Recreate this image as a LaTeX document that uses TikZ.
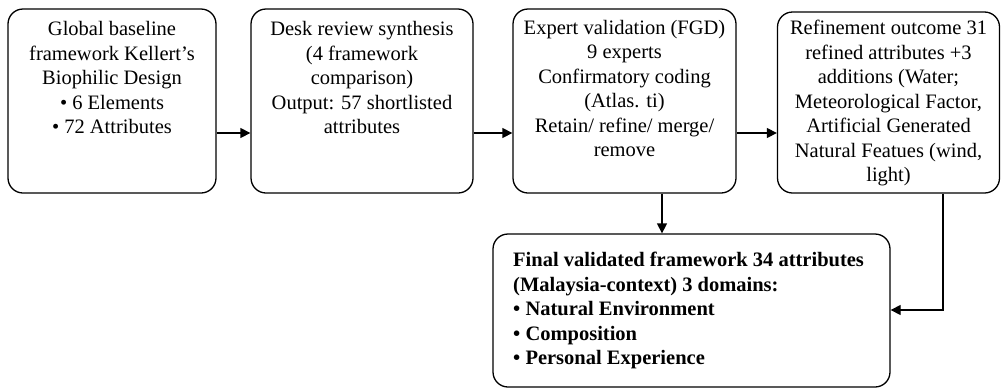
\documentclass[tikz,border=0pt]{standalone}
\usepackage{fontspec}
\setmainfont{Liberation Serif}
\usetikzlibrary{arrows.meta}
\begin{document}
\begin{tikzpicture}[x=1pt,y=-1pt,
  box/.style={draw,line width=1.3pt,rounded corners=15pt},
  txt/.style={inner sep=0pt,anchor=north,align=center,font=\fontsize{20.5}{24.5}\selectfont},
  btxt/.style={inner sep=0pt,anchor=north west,align=left,font=\fontsize{20.5}{24.5}\selectfont\bfseries},
  arr/.style={line width=1.3pt,-{Triangle[length=10pt,width=10pt]}}]
\useasboundingbox (0,0) rectangle (1001,389);
\node[box,minimum width=208pt,minimum height=184pt] (b1) at (112,101) {};
\node[box,minimum width=222pt,minimum height=184pt] (b2) at (362,101) {};
\node[box,minimum width=223pt,minimum height=184pt] (b3) at (624.5,101) {};
\node[box,minimum width=222pt,minimum height=181pt] (b4) at (888.5,102.5) {};
\node[box,minimum width=397pt,minimum height=153pt] (b5) at (691.5,310.5) {};
\node[txt] (t1) at (112,21.5) {Global baseline\\framework Kellert’s\\Biophilic Design\\• 6 Elements\\• 72 Attributes};
\node[txt] (t2) at (362,21.5) {Desk review synthesis\\(4 framework\\comparison)\\Output: 57 shortlisted\\attributes};
\node[txt] (t3) at (624.5,20) {Expert validation (FGD)\\9 experts\\Confirmatory coding\\(Atlas. ti)\\Retain/ refine/ merge/\\remove};
\node[txt] (t4) at (888.5,20) {Refinement outcome 31\\refined attributes +3\\additions (Water;\\Meteorological Factor,\\Artificial Generated\\Natural Featues (wind,\\light)};
\node[btxt] (t5) at (513,252) {Final validated framework 34 attributes\\(Malaysia-context) 3 domains:\\• Natural Environment\\• Composition\\• Personal Experience};
\coordinate (ry) at (0,133);
\coordinate (ey) at (0,310);
\draw[arr] (b1.east |- ry) -- (b2.west |- ry);
\draw[arr] (b2.east |- ry) -- (b3.west |- ry);
\draw[arr] (b3.east |- ry) -- (b4.west |- ry);
\coordinate (dx) at (662,0);
\draw[arr] (b3.south -| dx) -- (b5.north -| dx);
\coordinate (ex) at (943,0);
\draw[arr] (b4.south -| ex) -- (ex |- ey) -- (b5.east |- ey);
\end{tikzpicture}
\end{document}
